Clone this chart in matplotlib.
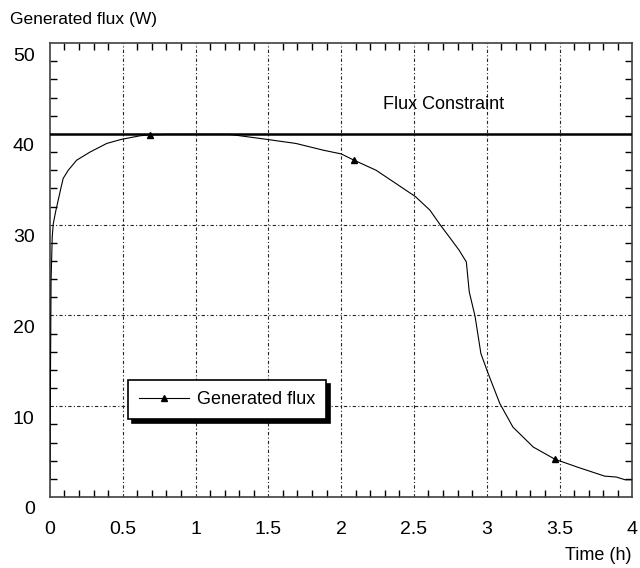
import matplotlib
matplotlib.use("Agg")
import matplotlib.pyplot as plt
from matplotlib.ticker import MultipleLocator
from matplotlib.transforms import ScaledTranslation

plt.rcParams['font.family'] = ['Liberation Sans', 'DejaVu Sans']

# Data
time_h = [0, 0.004, 0.008, 0.016, 0.023, 0.04, 0.057, 0.075, 0.091, 0.126, 0.183,
          0.275, 0.39, 0.49, 0.62, 0.69, 0.8, 1.0, 1.235, 1.49, 1.69, 1.88, 2.0,
          2.09, 2.24, 2.38, 2.51, 2.61, 2.68, 2.75, 2.81, 2.86, 2.88, 2.92, 2.96,
          3.01, 3.09, 3.18, 3.32, 3.47, 3.64, 3.81, 3.89, 3.95, 4.0]
flux_w = [2, 14, 24, 28.7, 30.1, 31.5, 32.7, 34.0, 35.1, 36.0, 37.1,
          38.0, 38.95, 39.4, 39.8, 39.9, 39.95, 39.95, 39.95, 39.4, 38.95, 38.2, 37.8,
          37.1, 36.0, 34.5, 33.1, 31.6, 30.0, 28.5, 27.2, 25.9, 22.6, 19.9, 15.8,
          13.6, 10.3, 7.7, 5.5, 4.15, 3.2, 2.3, 2.2, 1.9, 1.9]
marker_times = [0.69, 2.09, 3.47]
flux_constraint = 40
x_ticks = [0, 0.5, 1, 1.5, 2, 2.5, 3, 3.5, 4]
x_tick_labels = ['0', '0.5', '1', '1.5', '2', '2.5', '3', '3.5', '4']
y_ticks = [0, 10, 20, 30, 40, 50]

fig = plt.figure(figsize=(6.4, 5.68), dpi=100)
ax = fig.add_axes([0.078, 0.125, 0.91, 0.799])

ax.set_xlim(0, 4)
ax.set_ylim(0, 50)

# grid
for xv in x_ticks[1:-1]:
    ax.axvline(xv, color='0.15', lw=0.8, ls=(0, (3, 2, 1, 2)), zorder=1)
for yv in y_ticks[1:-1]:
    ax.axhline(yv, color='0.15', lw=0.8, ls=(0, (3, 2, 1, 2)), zorder=1)

ax.axhline(flux_constraint, color='black', lw=1.8, zorder=3)

mark_idx = [time_h.index(m) for m in marker_times]
ax.plot(time_h, flux_w, color='black', lw=0.8, marker='^', markersize=4,
        markevery=mark_idx, label='Generated flux', zorder=4)

ax.text(2.29, 43.2, 'Flux Constraint', fontsize=13, va='center', ha='left')

ax.set_xticks(x_ticks)
ax.set_xticklabels(x_tick_labels)
ax.set_yticks(y_ticks)
ax.xaxis.set_minor_locator(MultipleLocator(0.1))
ax.yaxis.set_minor_locator(MultipleLocator(2))
ax.tick_params(which='both', direction='in', top=True, right=True, width=1.0)
ax.tick_params(which='major', length=0)
ax.tick_params(which='minor', length=5)
ax.tick_params(axis='x', which='major', pad=17, labelsize=14)
ax.tick_params(axis='y', which='major', pad=11, labelsize=14)

off = ScaledTranslation(0, -0.11, fig.dpi_scale_trans)
for lab in ax.get_yticklabels():
    lab.set_transform(lab.get_transform() + off)

for s in ax.spines.values():
    s.set_linewidth(1.2)
    s.set_color('0.25')

fig.text(0.016, 0.966, 'Generated flux (W)', fontsize=12.5, ha='left', va='center')
fig.text(0.986, 0.022, 'Time (h)', fontsize=13, ha='right', va='center')

leg = ax.legend(loc='lower left', bbox_to_anchor=(0.134, 0.172), numpoints=1,
                fancybox=False, shadow={'color': 'black', 'alpha': 1, 'ox': 3, 'oy': -3},
                handlelength=2.8, fontsize=13, borderpad=0.6, handletextpad=0.4,
                borderaxespad=0.0, framealpha=1)
leg.get_frame().set_edgecolor('black')
leg.get_frame().set_linewidth(1.2)

fig.savefig('out.png', dpi=100)
